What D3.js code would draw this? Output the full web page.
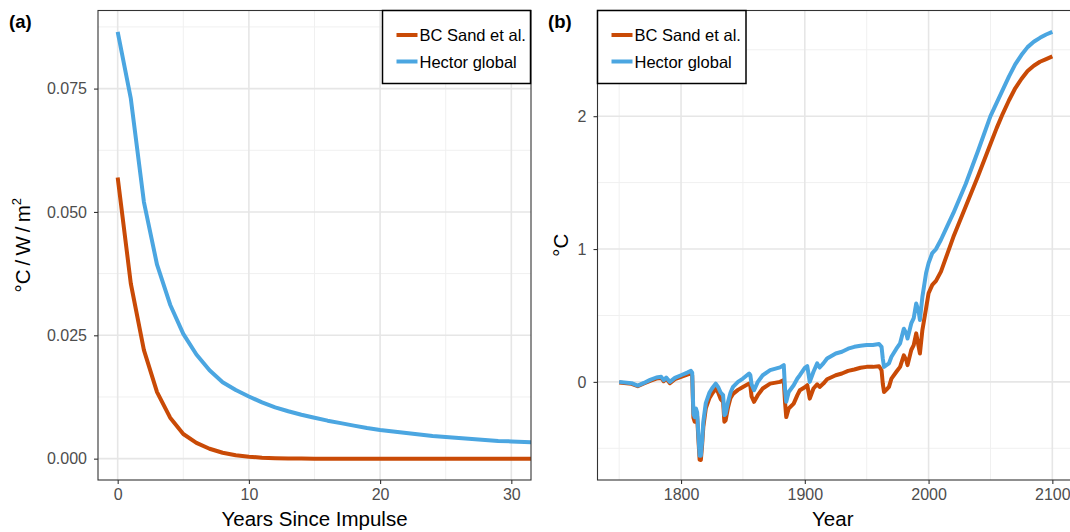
<!DOCTYPE html>
<html>
<head>
<meta charset="utf-8">
<script src="https://cdn.jsdelivr.net/npm/d3@7"></script>
<style>
  body { margin: 0; background: #fff; }
  svg { font-family: "Liberation Sans", Arial, sans-serif; }
  .tick text { fill: #4d4d4d; font-size: 16px; }
  .tick line { stroke: #333; }
</style>
</head>
<body>
<div id="chart"></div>
<script>
// ---- data: panel (a) impulse response ----
var impulseYears = [0,1,2,3,4,5,6,7,8,9,10,11,12,13,14,15,16,17,18,19,20,21,22,23,24,25,26,27,28,29,30,31,32];
var impulseSand = [0.057,0.0355,0.022,0.0135,0.0083,0.0050,0.0032,0.0020,0.0012,0.0007,0.0004,0.0002,0.0001,0.00005,0.00002,0,0,0,0,0,0,0,0,0,0,0,0,0,0,0,0,0,0];
var impulseHector = [0.0865,0.073,0.052,0.0393,0.0312,0.0253,0.0211,0.0179,0.0155,0.0139,0.0126,0.0114,0.0104,0.0096,0.0089,0.0083,0.0077,0.0072,0.0067,0.0062,0.0058,0.0055,0.0052,0.0049,0.0046,0.0044,0.0042,0.0040,0.0038,0.0036,0.0035,0.0034,0.0033];
var impulseTicksX = [0, 10, 20, 30];
var impulseTicksY = [0, 0.025, 0.05, 0.075];

// ---- data: panel (b) temperature ----
var years = [1750,1760,1765,1770,1775,1780,1784,1786,1788,1791,1795,1800,1805,1808,1809,1810,1811,1812,1813,1814,1815,1816,1817,1818,1820,1823,1825,1828,1830,1832,1834,1835,1836,1838,1840,1842,1846,1850,1855,1856,1857,1859,1862,1866,1872,1880,1883,1884,1885,1887,1891,1894,1896,1900,1902,1904,1907,1910,1912,1915,1918,1925,1930,1935,1940,1945,1950,1955,1960,1962,1963,1964,1966,1968,1970,1974,1977,1980,1982,1983,1986,1988,1990,1992,1993,1995,1998,2000,2003,2006,2010,2015,2020,2030,2040,2050,2055,2060,2065,2070,2075,2080,2085,2090,2095,2100];
var tempHector = [0.0,-0.01,-0.028,-0.008,0.015,0.033,0.038,0.013,0.033,0.0,0.03,0.05,0.07,0.083,0.07,-0.24,-0.265,-0.2,-0.23,-0.4,-0.556,-0.556,-0.45,-0.3,-0.16,-0.08,-0.05,-0.013,-0.04,-0.08,-0.1,-0.25,-0.24,-0.15,-0.08,-0.038,0.0,0.025,0.063,0.05,-0.018,-0.063,0.0,0.05,0.088,0.109,0.126,-0.05,-0.15,-0.076,-0.025,0.025,0.05,0.105,0.118,0.0,0.076,0.139,0.108,0.139,0.176,0.214,0.227,0.25,0.264,0.272,0.277,0.277,0.285,0.264,0.176,0.113,0.126,0.139,0.189,0.25,0.29,0.40,0.365,0.327,0.44,0.48,0.59,0.53,0.466,0.64,0.82,0.894,0.97,1.0,1.07,1.17,1.27,1.49,1.74,2.0,2.1,2.2,2.3,2.39,2.46,2.52,2.56,2.59,2.615,2.635];
var tempSand = [-0.005,-0.015,-0.032,-0.012,0.008,0.025,0.03,0.005,0.025,-0.01,0.02,0.037,0.055,0.065,0.05,-0.27,-0.3,-0.235,-0.26,-0.43,-0.585,-0.588,-0.48,-0.34,-0.2,-0.12,-0.09,-0.05,-0.08,-0.13,-0.15,-0.30,-0.29,-0.19,-0.12,-0.09,-0.06,-0.038,-0.013,-0.03,-0.11,-0.15,-0.1,-0.05,-0.013,0.0,0.013,-0.15,-0.265,-0.2,-0.164,-0.1,-0.063,-0.04,-0.025,-0.126,-0.05,-0.018,-0.038,-0.013,0.02,0.05,0.063,0.083,0.093,0.106,0.113,0.113,0.118,0.088,-0.013,-0.076,-0.058,-0.038,0.025,0.076,0.113,0.20,0.164,0.126,0.24,0.277,0.365,0.264,0.214,0.39,0.554,0.667,0.73,0.76,0.83,0.96,1.09,1.32,1.55,1.79,1.91,2.02,2.12,2.21,2.28,2.34,2.38,2.41,2.43,2.45];
var yearTicks = [1800, 1900, 2000, 2100];
var tempTicks = [0, 1, 2];

var seriesNames = ["BC Sand et al.", "Hector global"];
var seriesColors = ["#C94A06", "#4BA6E1"];

var W = 1070, H = 532;
var svg = d3.select("#chart").append("svg")
    .attr("width", W).attr("height", H);

function panel(opts) {
  var g = svg.append("g");
  var x = d3.scaleLinear().domain(opts.xdom).range([opts.left, opts.right]);
  var y = d3.scaleLinear().domain(opts.ydom).range([opts.bottom, opts.top]);

  g.append("rect")
    .attr("x", opts.left).attr("y", opts.top)
    .attr("width", opts.right - opts.left).attr("height", opts.bottom - opts.top)
    .attr("fill", "#fff");

  // minor grid
  g.selectAll(".minx").data(opts.minorX).enter().append("line")
    .attr("x1", d => x(d)).attr("x2", d => x(d))
    .attr("y1", opts.top).attr("y2", opts.bottom)
    .attr("stroke", "#f0f0f0").attr("stroke-width", 1);
  g.selectAll(".miny").data(opts.minorY).enter().append("line")
    .attr("y1", d => y(d)).attr("y2", d => y(d))
    .attr("x1", opts.left).attr("x2", opts.right)
    .attr("stroke", "#f0f0f0").attr("stroke-width", 1);
  // major grid
  g.selectAll(".majx").data(opts.ticksX).enter().append("line")
    .attr("x1", d => x(d)).attr("x2", d => x(d))
    .attr("y1", opts.top).attr("y2", opts.bottom)
    .attr("stroke", "#e6e6e6").attr("stroke-width", 1.6);
  g.selectAll(".majy").data(opts.ticksY).enter().append("line")
    .attr("y1", d => y(d)).attr("y2", d => y(d))
    .attr("x1", opts.left).attr("x2", opts.right)
    .attr("stroke", "#e6e6e6").attr("stroke-width", 1.6);

  var clipId = "clip" + opts.id;
  svg.append("clipPath").attr("id", clipId).append("rect")
    .attr("x", opts.left).attr("y", opts.top)
    .attr("width", opts.right - opts.left).attr("height", opts.bottom - opts.top);

  var line = d3.line().x(d => x(d[0])).y(d => y(d[1]));
  opts.series.forEach(function(vals, i) {
    g.append("path")
      .datum(opts.xs.map((v, j) => [v, vals[j]]))
      .attr("clip-path", "url(#" + clipId + ")")
      .attr("d", line)
      .attr("fill", "none")
      .attr("stroke", seriesColors[i])
      .attr("stroke-width", 4)
      .attr("stroke-linejoin", "round");
  });

  g.append("rect")
    .attr("x", opts.left).attr("y", opts.top)
    .attr("width", opts.right - opts.left).attr("height", opts.bottom - opts.top)
    .attr("fill", "none").attr("stroke", "#333").attr("stroke-width", 1.1);

  var xa = g.append("g").attr("transform", "translate(0," + opts.bottom + ")")
    .call(d3.axisBottom(x).tickValues(opts.ticksX).tickFormat(opts.fmtX)
      .tickSize(4).tickSizeOuter(0).tickPadding(5));
  xa.select(".domain").remove();
  xa.selectAll(".tick line").attr("stroke-width", 1.1);

  var ya = g.append("g").attr("transform", "translate(" + opts.left + ",0)")
    .call(d3.axisLeft(y).tickValues(opts.ticksY).tickFormat(opts.fmtY)
      .tickSize(4).tickSizeOuter(0).tickPadding(7));
  ya.select(".domain").remove();
  ya.selectAll(".tick line").attr("stroke-width", 1.1);

  // legend
  var lg = g.append("g");
  lg.append("rect")
    .attr("x", opts.legend[0]).attr("y", opts.legend[1])
    .attr("width", opts.legend[2]).attr("height", opts.legend[3])
    .attr("fill", "#fff").attr("stroke", "#000").attr("stroke-width", 1.5);
  seriesNames.forEach(function(name, i) {
    var ly = opts.legend[1] + 24.5 + i * 26.5;
    lg.append("line")
      .attr("x1", opts.legend[0] + 14).attr("x2", opts.legend[0] + 35)
      .attr("y1", ly).attr("y2", ly)
      .attr("stroke", seriesColors[i]).attr("stroke-width", 4);
    lg.append("text")
      .attr("x", opts.legend[0] + 37).attr("y", ly + 6)
      .attr("font-size", 16.5).attr("fill", "#000")
      .text(name);
  });

  // titles
  g.append("text")
    .attr("x", (opts.left + opts.right) / 2 + opts.xTitleShift).attr("y", 526)
    .attr("text-anchor", "middle").attr("font-size", 20.5).attr("fill", "#000")
    .text(opts.xTitle);
  var yt = g.append("text")
    .attr("transform", "translate(" + opts.yTitleX + "," + ((opts.top + opts.bottom) / 2) + ") rotate(-90)")
    .attr("text-anchor", "middle").attr("font-size", 20.5).attr("fill", "#000");
  opts.yTitle(yt);

  g.append("text")
    .attr("x", opts.tagX).attr("y", 28)
    .attr("font-size", 18.5).attr("font-weight", "bold").attr("fill", "#000")
    .text(opts.tag);
}

panel({
  id: "a", tag: "(a)", tagX: 9,
  left: 98, right: 531, top: 10.5, bottom: 480,
  xdom: [-1.5, 31.5], ydom: [-0.004325, 0.090825],
  xs: impulseYears, series: [impulseSand, impulseHector],
  ticksX: impulseTicksX, ticksY: impulseTicksY,
  minorX: [5, 15, 25], minorY: [0.0125, 0.0375, 0.0625, 0.0875],
  fmtX: d3.format("d"), fmtY: d3.format(".3f"),
  legend: [382.5, 10.5, 148, 73],
  xTitle: "Years Since Impulse", xTitleShift: 0, yTitleX: 30,
  yTitle: function(t) {
    t.append("tspan").text("\u00B0C\u2009/\u2009W\u2009/\u2009m");
    t.append("tspan").attr("font-size", 13).attr("dy", -9).text("2");
  }
});

panel({
  id: "b", tag: "(b)", tagX: 548,
  left: 597.5, right: 1074, top: 10.5, bottom: 480,
  xdom: [1732.5, 2117.5], ydom: [-0.7386, 2.7956],
  xs: years, series: [tempSand, tempHector],
  ticksX: yearTicks, ticksY: tempTicks,
  minorX: [1750, 1850, 1950, 2050], minorY: [-0.5, 0.5, 1.5, 2.5],
  fmtX: d3.format("d"), fmtY: d3.format("d"),
  legend: [597.5, 10.5, 148.5, 73],
  xTitle: "Year", xTitleShift: -3, yTitleX: 568,
  yTitle: function(t) { t.text("\u00B0C"); }
});
</script>
</body>
</html>
